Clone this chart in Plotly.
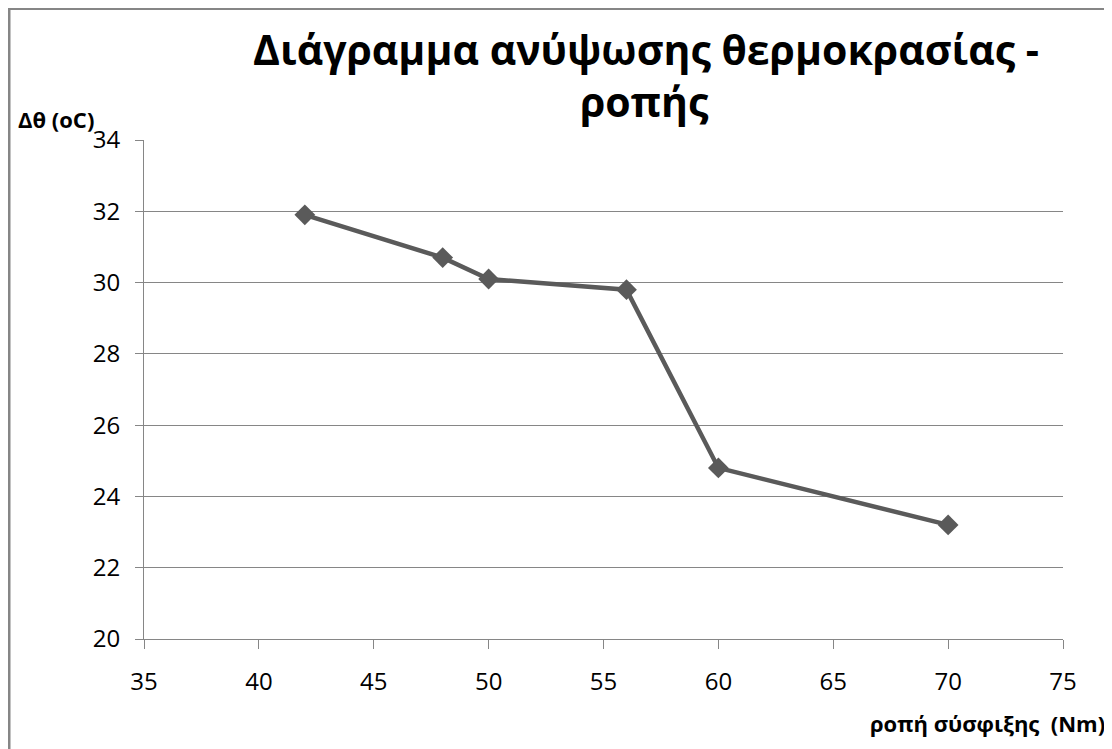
import plotly.graph_objects as go

# Data
torque = [42, 48, 50, 56, 60, 70]
delta_theta = [31.9, 30.7, 30.1, 29.8, 24.8, 23.2]
x_ticks = [35, 40, 45, 50, 55, 60, 65, 70, 75]
y_ticks = [20, 22, 24, 26, 28, 30, 32, 34]

title_line1 = "Διάγραμμα ανύψωσης θερμοκρασίας -"
title_line2 = "ροπής"
y_title = "Δθ (oC)"
x_title = "ροπή σύσφιξης  (Nm)"

# page body has an 8px margin; figure sized to fill the rest of the window
OFF = 8
W, H = 1112 - OFF, 749 - OFF
ML, MR, MT, MB = 144 - OFF, W - (1063 - OFF), 140 - OFF, H - (639 - OFF)
FONT = "Open Sans"
GRAY = "#868686"


def px_x(px):
    return (px - OFF - ML) / (W - ML - MR)


def px_y(py):
    return (H - MB - (py - OFF)) / (H - MT - MB)


fig = go.Figure()
fig.add_trace(go.Scatter(
    x=torque, y=delta_theta, mode="lines+markers",
    line=dict(color="#5a5a5a", width=4.5),
    marker=dict(symbol="diamond", size=16, color="#5a5a5a"),
    showlegend=False, cliponaxis=False,
))

fig.update_layout(
    width=W, height=H,
    margin=dict(l=ML, r=MR, t=MT, b=MB, autoexpand=False),
    paper_bgcolor="white", plot_bgcolor="white",
    font=dict(family=FONT, color="#000000"),
    xaxis=dict(range=[35, 75], tickvals=x_ticks, showgrid=False, zeroline=False,
               showline=True, linecolor=GRAY, linewidth=1,
               ticks="outside", ticklen=9, tickcolor=GRAY, ticklabelstandoff=12,
               tickfont=dict(size=24, family=FONT, color="#000000")),
    yaxis=dict(range=[20, 34], tickvals=y_ticks, showgrid=True, gridcolor=GRAY, gridwidth=1,
               zeroline=False, showline=True, linecolor=GRAY, linewidth=1,
               ticks="outside", ticklen=8, tickcolor=GRAY, ticklabelstandoff=10,
               tickfont=dict(size=24, family=FONT, color="#000000")),
)

# outer chart border (right and bottom edges lie outside the view)
fig.add_shape(type="rect", xref="paper", yref="paper",
              x0=px_x(9), x1=px_x(1140), y0=px_y(780), y1=px_y(8.5),
              line=dict(color=GRAY, width=3), fillcolor="rgba(0,0,0,0)", layer="below")


def ann(text, xpx, bottom_px, size, anchor):
    fig.add_annotation(text="<b>" + text + "</b>", xref="paper", yref="paper",
                       x=px_x(xpx), y=px_y(bottom_px), xanchor=anchor, yanchor="bottom",
                       showarrow=False, font=dict(size=size, family=FONT, color="#000000"))


ann(title_line1, 646, 79, 41, "center")
ann(title_line2, 644, 131, 41, "center")
ann(y_title, 16, 136, 22, "left")
ann(x_title, 1107, 740, 22, "right")

fig.write_html("out.html")
